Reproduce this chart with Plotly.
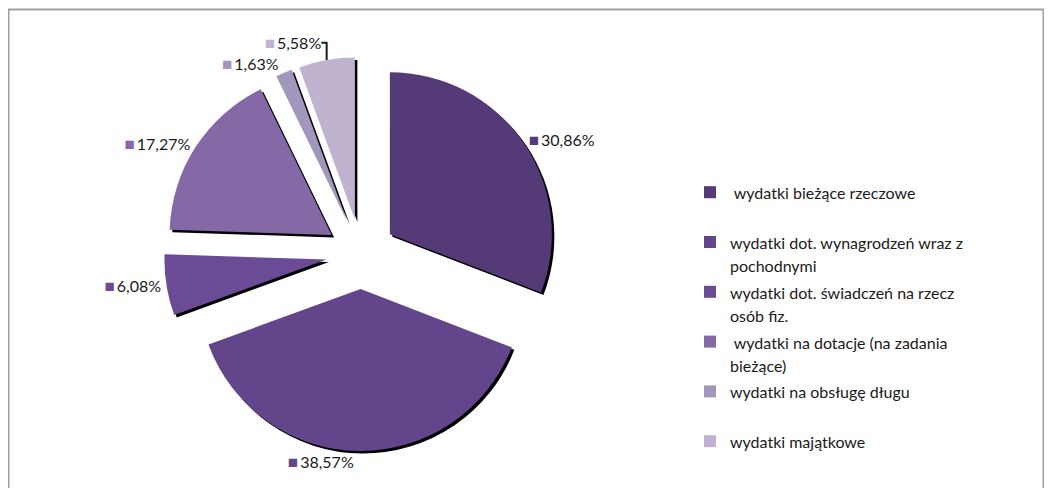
import plotly.graph_objects as go

legend_lines = [
    ["\u00a0wydatki bieżące rzeczowe", "\u00a0"],
    ["wydatki dot. wynagrodzeń wraz z", "pochodnymi"],
    ["wydatki dot. świadczeń na rzecz", "osób fiz."],
    ["\u00a0wydatki na dotacje (na zadania", "bieżące)"],
    ["wydatki na obsługę długu", "\u00a0"],
    ["wydatki majątkowe", "\u00a0"],
]
values = [30.86, 38.57, 6.08, 17.27, 1.63, 5.58]
colors = ["#553a78", "#62458a", "#6b4b95", "#8469a6", "#a396bc", "#bfb3cf"]

categories = [
    "<br>".join('<span style="font-size:16px">%s</span>' % ln for ln in lines)
    for lines in legend_lines
]

W, H = 1052, 488
OFF = 8  # page offset of the figure in the screenshot
cx, cy, half = 353, 246, 197
pull = 0.216

dom_x = [(cx - half) / W, (cx + half) / W]
dom_y = [(H - cy - half) / H, (H - cy + half) / H]
sx, sy = 2.5 / W, 2.5 / H

fig = go.Figure()

# shadow
fig.add_trace(go.Pie(
    labels=categories, values=values, sort=False, direction="clockwise",
    rotation=0, pull=[pull] * len(values),
    marker=dict(colors=["#000000"] * len(values), line=dict(width=0)),
    domain=dict(x=[dom_x[0] + sx, dom_x[1] + sx], y=[dom_y[0] - sy, dom_y[1] - sy]),
    textinfo="none", showlegend=False, hoverinfo="skip",
))

fig.add_trace(go.Pie(
    labels=categories, values=values, sort=False, direction="clockwise",
    rotation=0, pull=[pull] * len(values),
    marker=dict(colors=colors, line=dict(width=0)),
    domain=dict(x=dom_x, y=dom_y),
    customdata=colors,
    texttemplate='<span style="color:%{customdata};font-size:17px">■</span>\u2009%{value:.2f}%',
    textposition="outside",
    outsidetextfont=dict(family="Lato, sans-serif", size=16, color="#1a1a1a"),
    showlegend=True,
))

fig.update_layout(
    width=W, height=H,
    margin=dict(l=0, r=0, t=0, b=0, autoexpand=False),
    paper_bgcolor="white",
    separators=", ",
    font=dict(family="Lato, sans-serif"),
    legend=dict(
        x=682 / W, y=1 - 166 / H, xanchor="left", yanchor="top",
        valign="top", bgcolor="rgba(0,0,0,0)",
        font=dict(family="Lato, sans-serif", size=18, color="#1a1a1a"),
        traceorder="normal",
    ),
    shapes=[dict(
        type="rect", xref="paper", yref="paper",
        x0=(8.5 - OFF) / W, x1=(1043.5 - OFF) / W, y0=-0.05, y1=1 - (9.5 - OFF) / H,
        line=dict(color="#a0a0a0", width=2), fillcolor="rgba(0,0,0,0)",
        layer="below",
    )],
)

fig.write_html("out.html")
